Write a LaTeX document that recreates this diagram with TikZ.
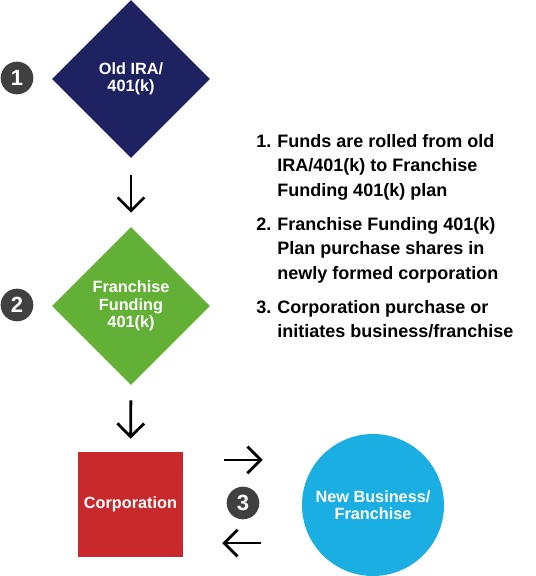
\documentclass[tikz,border=0pt]{standalone}
\usepackage{fontspec}
\setmainfont{Liberation Sans}
\usepackage{tikz}
\usetikzlibrary{arrows.meta,positioning,shapes.geometric,calc}
\usepackage{xcolor}
\definecolor{iranavy}{HTML}{1E2260}
\definecolor{fundgreen}{HTML}{63B037}
\definecolor{corpred}{HTML}{C8292C}
\definecolor{bizblue}{HTML}{1BAEE3}
\definecolor{badgegray}{HTML}{404040}

\begin{document}
\begin{tikzpicture}[x=0.75pt, y=-0.75pt,
    flow/.style={-{Straight Barb[length=10pt, width=20pt]}, line width=2.1pt, black},
    lbl/.style={text=white, align=center, inner sep=0pt, font=\fontsize{12.2pt}{13.1pt}\selectfont\bfseries},
    dia/.style={diamond, lbl, minimum width=118.5pt, minimum height=118.5pt, aspect=1},
    badge/.style={circle, fill=badgegray, text=white, inner sep=0pt, minimum size=24.5pt, font=\fontsize{16.5pt}{16.5pt}\selectfont\bfseries},
    item/.style={anchor=base west, align=left, inner sep=0pt, font=\fontsize{13.5pt}{18.5pt}\selectfont\bfseries}]
    \useasboundingbox (0,0) rectangle (536,576);

    % Flow
    \node[dia, fill=iranavy] (ira) at (131,79) {Old IRA/\\401(k)};
    \node[dia, fill=fundgreen] (fund) at (131,306) {Franchise\\Funding\\401(k)};
    \node[rectangle, lbl, fill=corpred, minimum width=78.75pt, minimum height=78.75pt] (corp) at (130.5,504.5) {Corporation};
    \node[circle, lbl, fill=bizblue, minimum size=106.5pt] (biz) at (373,505) {New Business/\\Franchise};

    \draw[flow, shorten <=12.75pt, shorten >=10.5pt] (ira.south) -- (fund.north);
    \draw[flow, shorten <=11.25pt, shorten >=9.75pt] (fund.south) -- (corp.north);
    \draw[flow, shorten <=30.75pt, shorten >=29.25pt] ([yshift=33.4pt]corp.east) -- ([yshift=33.4pt]corp.east -| biz.west);
    \draw[flow, shorten <=30.75pt, shorten >=29.25pt] ([yshift=-28.9pt]corp.east -| biz.west) -- ([yshift=-28.9pt]corp.east);

    % Badges
    \node[badge] (b1) at (17,78) {1};
    \node[badge] (b2) at (17,305) {2};
    \node[badge] (b3) at (243,503) {3};

    % Steps (anchored at the baseline of the last line)
    \node[item] (n1) at (256,147) {1.};
    \node[item] (t1) at (277,196.4) {Funds are rolled from old\\IRA/401(k) to Franchise\\Funding 401(k) plan};
    \node[item] (n2) at (256,230) {2.};
    \node[item] (t2) at (277,279.4) {Franchise Funding 401(k)\\Plan purchase shares in\\newly formed corporation};
    \node[item] (n3) at (256,313) {3.};
    \node[item] (t3) at (277,337.7) {Corporation purchase or\\initiates business/franchise};
\end{tikzpicture}
\end{document}
